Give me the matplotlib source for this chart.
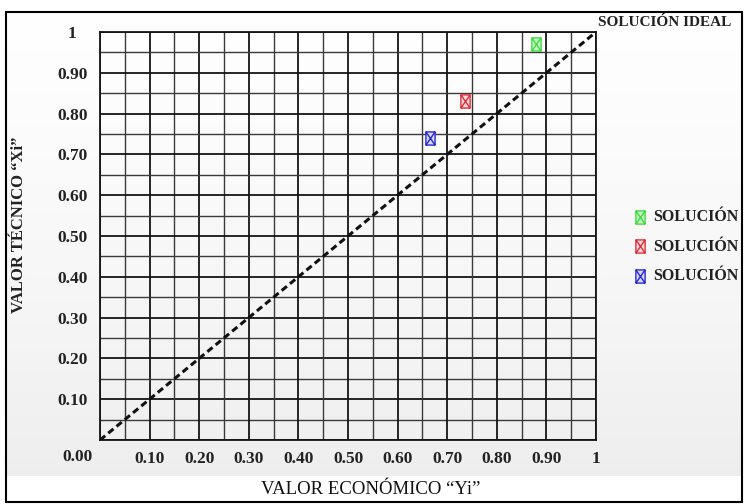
import matplotlib
matplotlib.use('Agg')
import matplotlib.pyplot as plt
import numpy as np
from matplotlib.path import Path
from matplotlib.patches import Rectangle

plt.rcParams['font.family'] = ['Liberation Serif', 'DejaVu Serif']

# data
sol_x = [0.88, 0.735, 0.665]
sol_y = [0.97, 0.83, 0.74]
sol_colors = ['#3fdc3f', '#e0303a', '#2b2bd0']
sol_faces = ['#c8f5c8', '#fbd9dc', '#d6d6fa']
sol_labels = ['SOLUCIÓN', 'SOLUCIÓN', 'SOLUCIÓN']
ideal_x = [0, 1]
ideal_y = [0, 1]
tick_vals = [0.1, 0.2, 0.3, 0.4, 0.5, 0.6, 0.7, 0.8, 0.9, 1.0]
tick_labels = ['0.10', '0.20', '0.30', '0.40', '0.50', '0.60', '0.70', '0.80', '0.90', '1']
grid_vals = np.arange(0, 21) * 0.05

# box with an X inside, a bit taller than wide
box = Path([(-0.7, -1), (0.7, -1), (0.7, 1), (-0.7, 1), (-0.7, -1),
            (-0.7, 1), (0.7, -1), (-0.7, -1), (0.7, 1)],
           [Path.MOVETO, Path.LINETO, Path.LINETO, Path.LINETO, Path.CLOSEPOLY,
            Path.MOVETO, Path.LINETO, Path.MOVETO, Path.LINETO])

fig = plt.figure(figsize=(7.44, 5.04), dpi=100)

# grey gradient backdrop
bg = fig.add_axes([7 / 744, 1 - 476 / 504, 734 / 744, 463 / 504], zorder=-5)
grad = np.linspace(0, 1, 256) ** 1.3
grad = np.outer(grad, np.ones(10))
bg.imshow(grad, aspect='auto', cmap='Greys', vmin=-0.05, vmax=7.5, origin='upper')
bg.axis('off')

ax = fig.add_axes([100 / 744, 1 - 440 / 504, 496 / 744, 408 / 504])
ax.set_facecolor('none')
ax.set_xlim(0, 1)
ax.set_ylim(0, 1)

for i, g in enumerate(grid_vals):
    c = '#151515' if i % 2 == 0 else '#3a3a3a'
    w = 1.3 if i % 2 == 0 else 1.0
    ax.axvline(g, color=c, lw=w, zorder=1)
    ax.axhline(g, color=c, lw=w, zorder=1)

ax.plot(ideal_x, ideal_y, color='#111111', lw=2.2, linestyle=(0, (2.2, 1.3)), zorder=3)

for x, y, c, f, lab in zip(sol_x, sol_y, sol_colors, sol_faces, sol_labels):
    ax.scatter([x], [y], marker=box, s=90, facecolor=f, edgecolor=c,
               linewidths=1.0, zorder=4, label=lab)

for s in ax.spines.values():
    s.set_color('#151515')
    s.set_linewidth(1.3)

bold = {'fontweight': 'bold', 'fontsize': 12.5, 'color': '#222222'}
ax.set_xticks(tick_vals)
ax.set_xticklabels(tick_labels, **bold)
ax.set_yticks(tick_vals)
ax.set_yticklabels(tick_labels, ha='center', **bold)
ax.tick_params(axis='x', length=0, pad=8)
ax.tick_params(axis='y', length=0, pad=20)
ax.text(-0.046, -0.042, '0.00', transform=ax.transAxes, ha='center', va='center', **bold)

fig.text(598 / 744, 1 - 22 / 504, 'SOLUCIÓN IDEAL', ha='left', va='center',
         fontweight='bold', fontsize=11, color='#222222')
fig.text(19 / 744, 1 - 225 / 504, 'VALOR TÉCNICO “Xi”', rotation=90, ha='center',
         va='center', fontweight='bold', fontsize=12, color='#222222')
fig.text(371 / 744, 1 - 489 / 504, 'VALOR ECONÓMICO “Yi”', ha='center', va='center',
         fontsize=13.5, color='#111111')

fig.legend(loc='upper left', bbox_to_anchor=(634 / 744, 1 - 209 / 504), frameon=False,
           prop={'weight': 'bold', 'size': 11.5}, labelspacing=0.85, handlelength=0.7,
           handletextpad=0.5, borderpad=0, borderaxespad=0, labelcolor='#222222')

fig.patches.append(Rectangle((6 / 744, 2 / 504), 736 / 744, 490 / 504, fill=False,
                             edgecolor='black', lw=1.5, transform=fig.transFigure))

fig.savefig('out.png', dpi=100)
